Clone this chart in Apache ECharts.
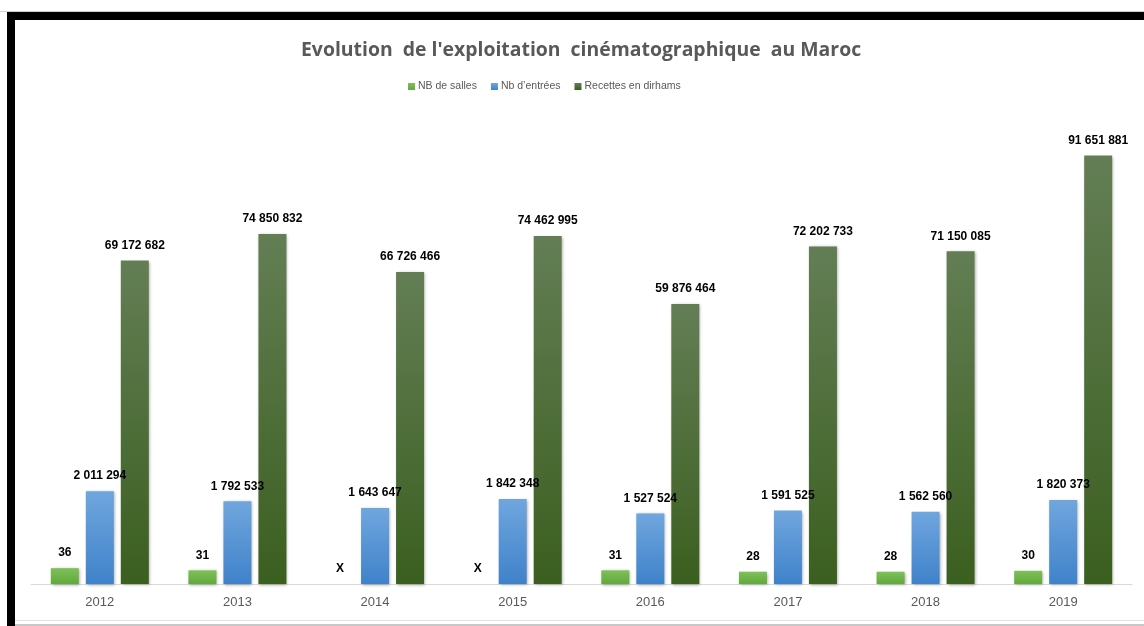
<!DOCTYPE html>
<html>
<head>
<meta charset="utf-8">
<script src="https://cdn.jsdelivr.net/npm/echarts@6/dist/echarts.min.js"></script>
<style>html,body{margin:0;padding:0;background:#fff;}#c{width:1144px;height:626px;}</style>
</head>
<body>
<div id="c"></div>
<script>
const years = ['2012','2013','2014','2015','2016','2017','2018','2019'];
const salles = [36, 31, null, null, 31, 28, 28, 30];
const entrees = [2011294, 1792533, 1643647, 1842348, 1527524, 1591525, 1562560, 1820373];
const recettes = [69172682, 74850832, 66726466, 74462995, 59876464, 72202733, 71150085, 91651881];

function fmt(v){ return String(v).replace(/\B(?=(\d{3})+(?!\d))/g, ' '); }

const chart = echarts.init(document.getElementById('c'));
const lbl = {show:true, position:'top', distance:9, color:'#000', fontWeight:'bold', fontSize:12, fontFamily:'Liberation Sans, Arial, sans-serif'};
function grad(a,b){ return new echarts.graphic.LinearGradient(0,0,0,1,[{offset:0,color:a},{offset:1,color:b}]); }
const shadow = {shadowColor:'rgba(0,0,0,0.35)', shadowBlur:3, shadowOffsetX:1, shadowOffsetY:1};

chart.setOption({
  animation:false,
  backgroundColor:'#fff',
  title:{text:"Evolution  de l'exploitation  cinématographique  au Maroc", left:296, top:36,
    textStyle:{color:'#595959', fontSize:19.4, fontWeight:'bold', fontFamily:'Open Sans, Liberation Sans, sans-serif'}},
  legend:{left:403, top:76, itemWidth:7, itemHeight:7, itemGap:14, icon:'rect',
    textStyle:{color:'#595959', fontSize:10.5, padding:[0,0,0,-2], fontFamily:'Liberation Sans, Arial, sans-serif'},
    data:['NB de salles','Nb d\u2019entrées','Recettes en dirhams']},
  grid:{left:31, right:12, top:120, bottom:42},
  xAxis:{type:'category', data:years, axisTick:{show:false},
    axisLine:{lineStyle:{color:'#d9d9d9', width:1}},
    axisLabel:{color:'#595959', fontSize:13, margin:12, fontFamily:'Liberation Sans, Arial, sans-serif'}},
  yAxis:[
    {type:'value', min:0, max:99.25e6, show:false, splitLine:{show:false}},
    {type:'value', min:0, max:10.05e6, show:false, splitLine:{show:false}},
    {type:'value', min:0, max:1055, show:false, splitLine:{show:false}}
  ],
  series:[
    {name:'NB de salles', type:'bar', yAxisIndex:2, barWidth:28, barGap:'25%',
     itemStyle:Object.assign({color:grad('#7fc059','#62a83c')}, shadow),
     label:Object.assign({}, lbl, {formatter:p=>p.data.missing?'X':fmt(p.value)}),
     data:salles.map(v=>v===null?{value:0, missing:true}:{value:v})},
    {name:'Nb d\u2019entrées', type:'bar', yAxisIndex:1, barWidth:28, barGap:'25%',
     itemStyle:Object.assign({color:grad('#70a6de','#3f82ca')}, shadow),
     label:Object.assign({}, lbl, {formatter:p=>fmt(p.value)}),
     data:entrees},
    {name:'Recettes en dirhams', type:'bar', yAxisIndex:0, barWidth:28, barGap:'25%',
     itemStyle:Object.assign({color:grad('#637e55','#3b5f1f')}, shadow),
     label:Object.assign({}, lbl, {formatter:p=>fmt(p.value)}),
     data:recettes}
  ],
  color:['#6ab04a','#5b9bd5','#3e6b25'],
  graphic:[
    {type:'rect', shape:{x:7,y:12,width:1137,height:8}, style:{fill:'#000'}},
    {type:'rect', shape:{x:7,y:12,width:8,height:614}, style:{fill:'#000'}},
    {type:'rect', shape:{x:0,y:11,width:1144,height:1}, style:{fill:'#d0d0d0'}},
    {type:'rect', shape:{x:15,y:620,width:1129,height:1}, style:{fill:'#e0e0e0'}},
    {type:'rect', shape:{x:15,y:624,width:1129,height:2}, style:{fill:'#c8c8c8'}}
  ]
});
</script>
</body>
</html>
